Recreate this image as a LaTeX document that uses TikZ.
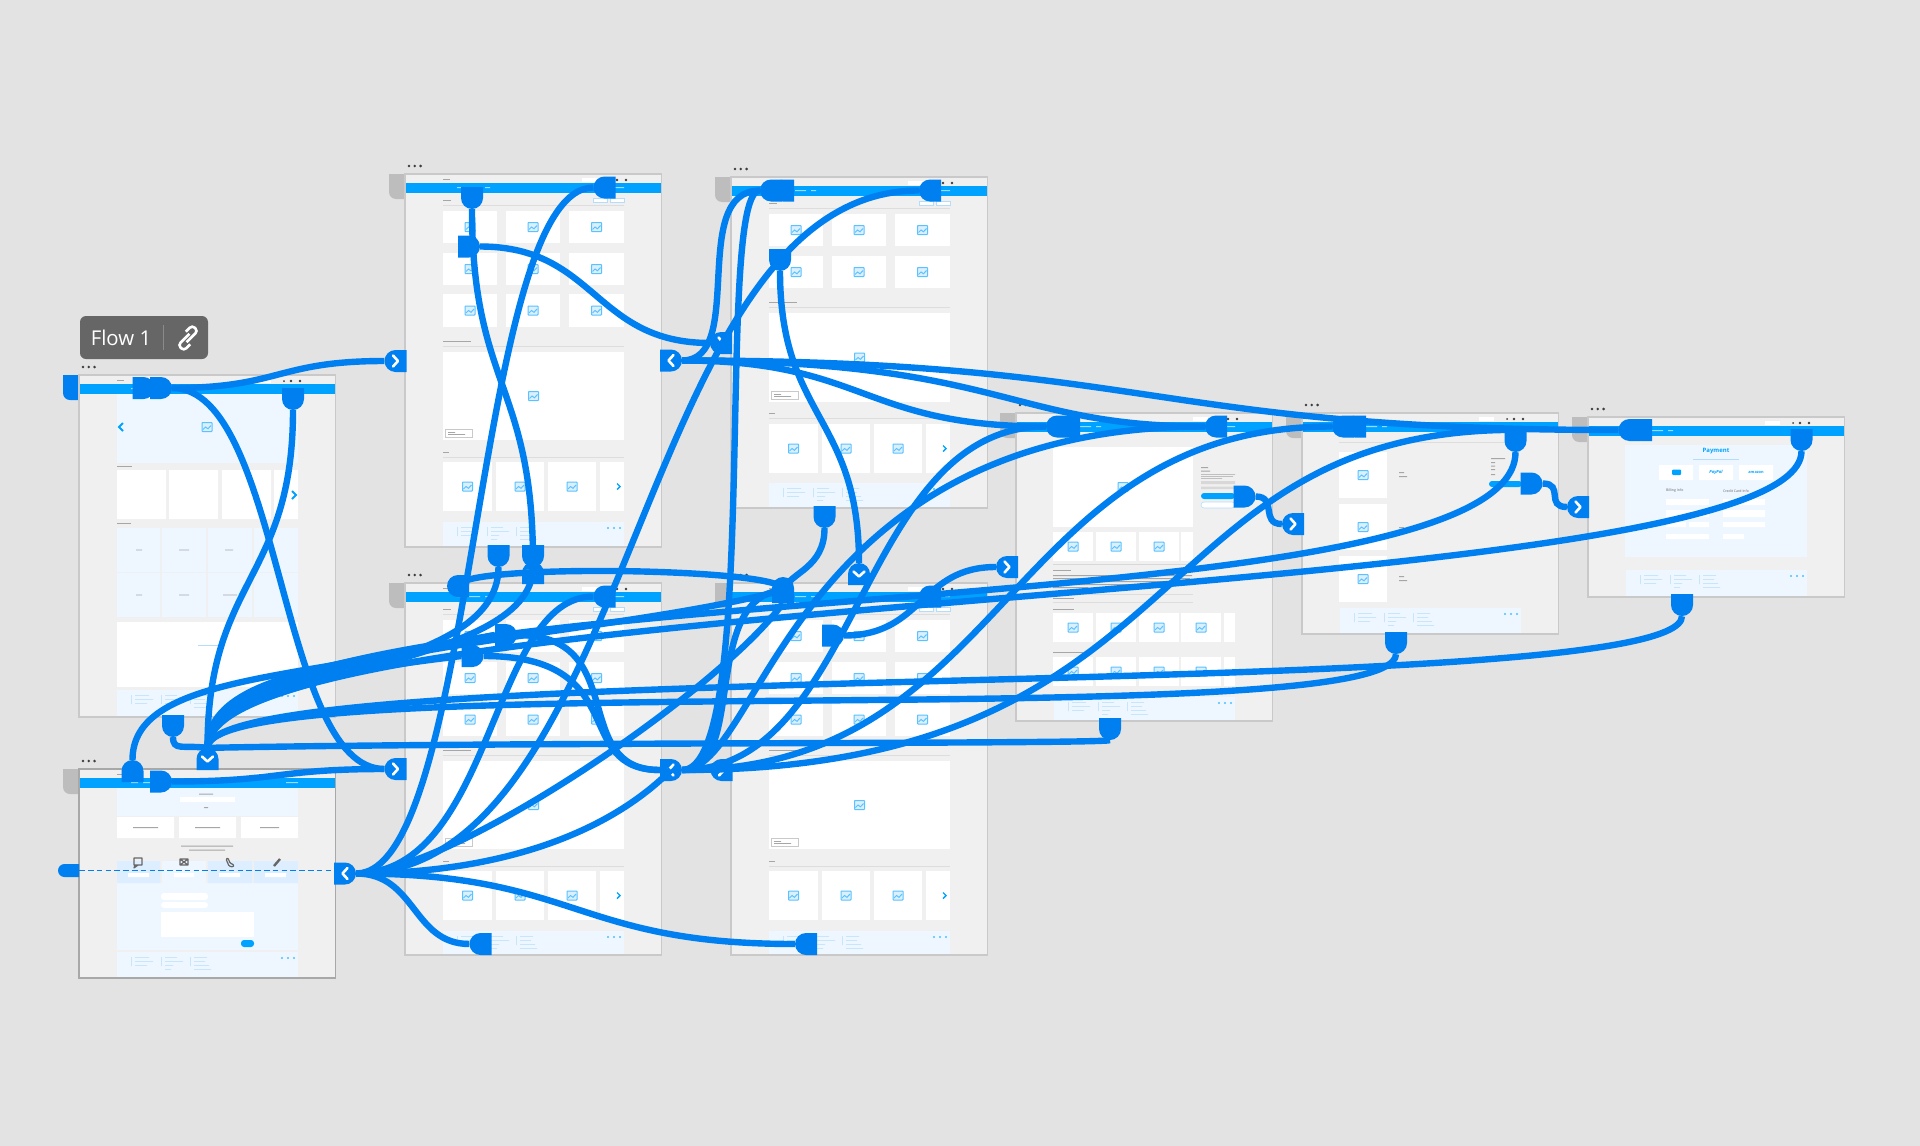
\documentclass[tikz,border=0pt]{standalone}
\usepackage{fontspec}
\usepackage{xcolor}
\usepackage{tikz}
\usetikzlibrary{shapes.misc}
\setmainfont{Open Sans}
\definecolor{FLCanvas}{HTML}{E3E3E3}
\definecolor{FLBlue}{HTML}{0080F0}
\definecolor{FLBar}{HTML}{00A2FF}
\definecolor{FLPaper}{HTML}{F0F0F0}
\definecolor{FLEdge}{HTML}{C9C9C9}
\definecolor{FLEdgeDark}{HTML}{A8A8A8}
\definecolor{FLGrip}{HTML}{BDBDBD}
\definecolor{FLPale}{HTML}{EEF7FF}
\definecolor{FLTab}{HTML}{DCEEFF}
\definecolor{FLSoft}{HTML}{B4DDFA}
\definecolor{FLIcon}{HTML}{DCEFFF}
\definecolor{FLInk}{HTML}{A6A6A6}
\definecolor{FLTag}{HTML}{666666}
\definecolor{FLTagLine}{HTML}{8A8A8A}
\tikzset{
  portshape/.style={shape=rounded rectangle,rounded rectangle west arc=none,fill=FLBlue,draw=none,inner sep=0pt,minimum width=0.95cm,minimum height=1.1cm},
  flowline/.style={draw=FLBlue,line width=0.32cm},
  dashline/.style={draw=FLBlue,line width=0.085cm,dash pattern=on 0.28cm off 0.16cm},
  chevmark/.style={draw=white,line width=0.13cm,line cap=round,line join=round},
  cardbox/.style={fill=white},
  textbar/.style={fill=FLInk},
  softbar/.style={fill=FLSoft},
  sectionline/.style={draw=FLEdge!50!FLPaper,line width=0.05cm},
  iconline/.style={draw=FLBar!65!white,line width=0.05cm},
  darkicon/.style={draw=black!60,line width=0.06cm,line join=round},
  imgicon/.pic={
    \draw[iconline,fill=FLIcon,rounded corners=0.03cm] (-5,-4.5) rectangle (5,4.5);
    \draw[iconline] (-4,2.5) -- (-1.5,0) -- (1,1.8) -- (4,-1.5);
  }
}
% one frame with its dots, grip and menu bar
\newcommand{\screen}[5]{
  \begin{scope}[shift={(#1,#2)}]
    \fill[#4] (0,0) -- (-16,0) [rounded corners=0.35cm] -- (-16,25) [sharp corners] -- (0,25) -- cycle;
    \fill[FLTag!60!black] (4,-8) circle (0.07cm) (9.8,-8) circle (0.07cm) (15.6,-8) circle (0.07cm);
    \fill[FLPaper,draw=#5,line width=0.09cm] (0,0) rectangle (256.5,#3);
    \fill[FLBar] (0.8,9) rectangle (255.7,18.5);
    \fill[textbar] (38,5) rectangle (45,6);
    \fill[white] (177,3.5) rectangle (192,8);
    \fill[FLTag!60!black] (205,6) circle (0.05cm) (212,6) circle (0.07cm) (221,6) circle (0.07cm);
    \fill[white!60!FLBar] (52,13) rectangle (59,14) (64,13) rectangle (75,14) (80,13) rectangle (85,14) (207,13) rectangle (219,14);
  \end{scope}
}
\newcommand{\imgcard}[4]{
  \fill[cardbox] (#1,#2) rectangle (#3,#4);
  \pic at ({(#1+#3)/2},{(#2+#4)/2}) {imgicon};
}
\newcommand{\footband}[2]{
  \fill[FLPale] (38,#1) rectangle (219,#2);
  \fill[softbar] (52,{#1+5}) rectangle (52.7,{#1+14}) (82,{#1+5}) rectangle (82.7,{#1+14}) (111,{#1+5}) rectangle (111.7,{#1+14});
  \fill[softbar] (56,{#1+5}) rectangle (70,{#1+5.7}) (56,{#1+9}) rectangle (74,{#1+9.7}) (56,{#1+13}) rectangle (68,{#1+13.7});
  \fill[softbar] (86,{#1+5}) rectangle (98,{#1+5.7}) (86,{#1+9}) rectangle (104,{#1+9.7}) (86,{#1+13}) rectangle (94,{#1+13.7}) (86,{#1+17}) rectangle (92,{#1+17.7});
  \fill[softbar] (115,{#1+5}) rectangle (128,{#1+5.7}) (115,{#1+9}) rectangle (126,{#1+9.7}) (115,{#1+13}) rectangle (130,{#1+13.7}) (115,{#1+17}) rectangle (132,{#1+17.7});
  \fill[FLBar!70!white] (203,{#1+6}) circle (0.06cm) (209,{#1+6}) circle (0.06cm) (215,{#1+6}) circle (0.06cm);
}
\newcommand{\sectionhead}[2]{
  \fill[textbar] (38,{#1-5}) rectangle (#2,{#1-4});
  \draw[sectionline] (38,#1) -- (219,#1);
}
\newcommand{\herorow}[2]{
  \imgcard{38}{#1}{87}{#2}
  \imgcard{91}{#1}{139}{#2}
  \imgcard{143}{#1}{191}{#2}
  \fill[cardbox] (195,#1) rectangle (219,#2);
  \draw[FLBar,line width=0.07cm] (212,{(#1+#2)/2-3}) -- (215,{(#1+#2)/2}) -- (212,{(#1+#2)/2+3});
}
\newcommand{\captionbox}[1]{
  \fill[white,draw=FLEdge,line width=0.03cm] (40,#1) rectangle (67,{#1+8});
  \fill[textbar] (43,{#1+3}) rectangle (50,{#1+3.8}) (43,{#1+5}) rectangle (60,{#1+5.8});
}
\newcommand{\shoptop}[1]{
  \fill[textbar] (38,26) rectangle (46,27);
  \draw[sectionline] (38,31) -- (219,31);
  \fill[white,draw=FLSoft,line width=0.03cm] (188,24.5) rectangle (202,28) (205,24.5) rectangle (219,28);
  \imgcard{38}{#1}{92}{#1+32}
  \imgcard{101}{#1}{155}{#1+32}
  \imgcard{164}{#1}{219}{#1+32}
  \imgcard{38}{#1+42}{92}{#1+74}
  \imgcard{101}{#1+42}{155}{#1+74}
  \imgcard{164}{#1+42}{219}{#1+74}
}
\newcommand{\shoppage}[3]{
  \begin{scope}[shift={(#1,#2)}]
    \shoptop{37}
    \imgcard{38}{120}{92}{153}
    \imgcard{101}{120}{155}{153}
    \imgcard{164}{120}{219}{153}
    \sectionhead{172}{66}
    \imgcard{38}{178}{219}{266}
    \captionbox{255}
    \sectionhead{283}{44}
    \herorow{288}{337}
    \footband{348}{#3}
  \end{scope}
}
\begin{document}
\begin{tikzpicture}[x=0.05cm,y=-0.05cm]
\path[use as bounding box] (0,0) rectangle (1920,1146);
\fill[FLCanvas] (0,0) rectangle (1920,1146);
% frames
\screen{79}{375}{342}{FLBlue}{FLEdge}
\screen{79}{769}{209}{FLGrip}{FLEdgeDark}
\screen{405}{174}{373}{FLGrip}{FLEdge}
\screen{405}{583}{372}{FLGrip}{FLEdge}
\screen{731}{177}{331}{FLGrip}{FLEdge}
\screen{731}{583}{372}{FLGrip}{FLEdge}
\screen{1016}{413}{308}{FLGrip}{FLEdge}
\screen{1302}{413}{221}{FLGrip}{FLEdge}
\screen{1588}{417}{180}{FLGrip}{FLEdge}
% home
\begin{scope}[shift={(79,375)}]
\fill[FLPale] (38,18.5) rectangle (219,88);
\pic at (128,52) {imgicon};
\draw[FLBar,line width=0.09cm] (44,48) -- (40,52) -- (44,56);
\fill[textbar] (38,91) rectangle (53,92);
\fill[cardbox] (38,95) rectangle (87,144) (90,95) rectangle (139,144) (143,95) rectangle (192,144) (195,95) rectangle (219,144);
\draw[FLBar,line width=0.09cm] (213,116) -- (217,120) -- (213,124);
\fill[textbar] (38,148) rectangle (52,149);
\fill[FLPale] (38,153) rectangle (81,197) (83,153) rectangle (127,197) (129,153) rectangle (173,197) (175,153) rectangle (219,197);
\fill[FLPale] (38,198) rectangle (81,242) (83,198) rectangle (127,242) (129,198) rectangle (173,242) (175,198) rectangle (219,242);
\fill[textbar] (57,174.5) rectangle (63,175.3) (100,174.5) rectangle (110,175.3) (146,174.5) rectangle (154,175.3) (57,219.5) rectangle (63,220.3) (100,219.5) rectangle (110,220.3) (144,219.5) rectangle (158,220.3);
\fill[cardbox] (38,247) rectangle (219,312);
\fill[softbar] (119,270) rectangle (140,271);
\footband{315}{341}
\end{scope}
% contact
\begin{scope}[shift={(79,769)}]
\fill[FLPale] (38,18.5) rectangle (219,47);
\fill[white] (101,28) rectangle (156,33);
\fill[textbar] (120,24.5) rectangle (134,25.5) (125,38) rectangle (129,39);
\fill[cardbox] (38,48) rectangle (95,69) (100,48) rectangle (157,69) (162,48) rectangle (219,69);
\fill[textbar] (54,58) rectangle (79,59) (116,58) rectangle (141,59) (181,58) rectangle (200,59);
\fill[textbar] (102,76.5) rectangle (154,77.5) (110,80.5) rectangle (146,81.5);
\fill[FLPale] (38,114) rectangle (219,181);
\fill[FLTab] (38,92) rectangle (81,114) (129,92) rectangle (173,114) (175,92) rectangle (219,114);
\fill[FLPale] (83,92) rectangle (127,114);
\fill[white] (49,104) rectangle (70,108) (95,104) rectangle (115,108) (140,104) rectangle (161,108) (186,104) rectangle (207,108);
\draw[darkicon] (55,89) rectangle (63,96) (56,96) -- (55,99) -- (59,96);
\draw[darkicon] (101,90) rectangle (109,96) (101,90) -- (105,93) -- (109,90) (101,96) -- (105,93) -- (109,96);
\draw[darkicon,rounded corners=0.05cm] (147,90) -- (149,89) -- (151,94) -- (155,96) -- (154,98) -- (150,97) -- cycle;
\draw[darkicon,line width=0.12cm] (195,97) -- (201,90);
\fill[white,rounded corners=0.15cm] (82,124) rectangle (129,131) (82,133) rectangle (129,139);
\fill[white] (82,143) rectangle (175,168);
\fill[FLBar,rounded corners=0.15cm] (162,171) rectangle (175,178);
\footband{183}{208}
\end{scope}
% catalogue pages
\shoppage{405}{174}{372}
\shoppage{405}{583}{371}
\shoppage{731}{583}{371}
\begin{scope}[shift={(731,177)}]
\shoptop{37}
\sectionhead{130}{66}
\imgcard{38}{136}{219}{225}
\captionbox{214}
\sectionhead{241}{44}
\herorow{247}{296}
\footband{306}{330}
\end{scope}
% product
\begin{scope}[shift={(1016,413)}]
\imgcard{37}{34}{177}{114}
\imgcard{37}{119}{77}{148}
\imgcard{80}{119}{120}{148}
\imgcard{123}{119}{163}{148}
\fill[cardbox] (165,119) rectangle (177,148);
\fill[FLEdge!60!FLPaper] (37,150.5) rectangle (177,151.5);
\fill[textbar] (185,54) rectangle (192,55) (185,57.5) rectangle (194,58.5) (185,61) rectangle (219,61.7) (185,63) rectangle (217,63.7) (185,65) rectangle (206,65.7);
\fill[FLEdge!60!FLPaper] (185,68) rectangle (219,71) (185,73.5) rectangle (219,76);
\fill[FLBar,rounded corners=0.15cm] (185,80) rectangle (219,86);
\fill[white,draw=FLSoft,line width=0.03cm,rounded corners=0.15cm] (185,89) rectangle (219,95);
\fill[textbar] (37,157) rectangle (55,158);
\fill[textbar] (37,162) rectangle (176,163) (37,165) rectangle (174,166) (37,168) rectangle (170,169) (37,171) rectangle (176,172) (37,174) rectangle (72,175);
\draw[sectionline] (37,181) -- (177,181);
\fill[textbar] (37,185) rectangle (58,186);
\draw[sectionline] (37,189) -- (177,189);
\fill[textbar] (37,196) rectangle (58,197);
\imgcard{37}{200}{77}{229}
\imgcard{80}{200}{120}{229}
\imgcard{123}{200}{163}{229}
\imgcard{165}{200}{205}{229}
\fill[cardbox] (208,200) rectangle (219,229);
\fill[textbar] (37,239) rectangle (67,240);
\imgcard{37}{244}{77}{273}
\imgcard{80}{244}{120}{273}
\imgcard{123}{244}{163}{273}
\imgcard{165}{244}{205}{273}
\fill[cardbox] (208,244) rectangle (219,273);
\footband{284}{307}
\end{scope}
% cart
\begin{scope}[shift={(1302,413)}]
\draw[sectionline] (37,29) -- (219,29);
\imgcard{37}{39}{85}{85}
\imgcard{37}{91}{85}{137}
\imgcard{37}{143}{85}{189}
\fill[textbar] (97,59) rectangle (102,60) (97,63) rectangle (105,64) (97,114) rectangle (102,115) (97,118) rectangle (105,119) (97,163) rectangle (102,164) (97,167) rectangle (105,168);
\fill[textbar] (189,45) rectangle (203,46) (189,49) rectangle (193,50) (189,52.5) rectangle (193,53.5) (189,56) rectangle (193,57) (189,61) rectangle (193,62);
\fill[FLBar,rounded corners=0.15cm] (187,68) rectangle (220,74);
\footband{195}{220}
\end{scope}
% payment
\begin{scope}[shift={(1588,417)}]
\fill[FLPale] (37,28) rectangle (219,140);
\node[text=FLBar,font=\fontsize{8.5}{9}\selectfont\bfseries] (txtPayment) at (128,34) {Payment};
\fill[softbar] (105,42) rectangle (151,42.9);
\fill[cardbox] (71,48) rectangle (105,63) (111,48) rectangle (145,63) (151,48) rectangle (185,63);
\fill[FLBar,rounded corners=0.05cm] (84,52.5) rectangle (93,58);
\node[text=FLBar,font=\fontsize{6}{7}\selectfont\bfseries\itshape] (txtPaypal) at (128,55.5) {PayPal};
\node[text=FLBar,font=\fontsize{5.5}{6}\selectfont\bfseries] (txtAmazon) at (168,55) {amazon};
\node[text=black!60,font=\fontsize{5}{6}\selectfont,anchor=west,inner sep=0pt] (txtBilling) at (78,74) {Billing Info};
\node[text=black!60,font=\fontsize{5}{6}\selectfont,anchor=west,inner sep=0pt] (txtCredit) at (135,74) {Credit Card Info};
\fill[white] (78,82) rectangle (121,88) (78,93) rectangle (121,100) (78,105) rectangle (98,110) (101,105) rectangle (121,110) (78,117) rectangle (121,122);
\fill[white] (135,82) rectangle (177,88) (135,93) rectangle (177,100) (135,105) rectangle (177,110) (135,117) rectangle (156,122);
\footband{153}{179}
\end{scope}
% tag
\fill[FLTag,rounded corners=0.3cm] (80,316) rectangle (208,359);
\node[text=white,font=\fontsize{29}{34}\selectfont,inner sep=0pt] (flowName) at (121,338) {Flow 1};
\draw[FLTagLine,line width=0.07cm] (163.5,325) -- (163.5,350);
\draw[white,line width=0.13cm,rounded corners=0.17cm,shift={(188,338)},rotate=45] (4,-2) -- (-12,-2) -- (-12,6) -- (-3,6) (-4,2) -- (12,2) -- (12,-6) -- (3,-6);
% ports
\node[portshape] (pHomeA) at (143.5,388) {};
\node[portshape] (pHomeB) at (161,388) {};
\node[portshape,rotate=-90] (pHomeDown) at (293,399) {};
\node[portshape,rotate=-90] (pHomeFoot) at (173,726) {};
\node[portshape,rotate=90] (pContactUp) at (132.5,771) {};
\node[portshape] (pContactR) at (161,781.5) {};
\node[portshape,rotate=180,minimum width=1.05cm,minimum height=0.65cm] (pContactL) at (68.5,870.5) {};
\node[portshape,rotate=-90] (pShopDown) at (472,198) {};
\node[portshape] (pShopMid) at (469,246.5) {};
\node[portshape,rotate=180] (pShopTop) at (604.5,187.5) {};
\node[portshape,rotate=-90] (pShopFootA) at (498.5,556) {};
\node[portshape,rotate=-90] (pShopFootB) at (533,556) {};
\node[portshape,rotate=180] (pCollectL) at (771,190.5) {};
\node[portshape,rotate=180] (pCollectLb) at (783,190.5) {};
\node[portshape,rotate=180] (pCollectR) at (930,190.5) {};
\node[portshape,rotate=-90] (pCollectDown) at (780,260) {};
\node[portshape,rotate=-90] (pCollectFoot) at (824.5,517) {};
\node[portshape,rotate=180] (pProdA) at (458,586) {};
\node[portshape] (pProdB) at (506,635) {};
\node[portshape] (pProdC) at (472.5,656) {};
\node[portshape,rotate=180] (pProdTop) at (604.5,596.5) {};
\node[portshape,rotate=180] (pProdFoot) at (480.5,944) {};
\node[portshape,rotate=90,minimum width=1.3cm] (pDetailTop) at (783,590) {};
\node[portshape,rotate=180] (pDetailR) at (930,596.5) {};
\node[portshape] (pDetailMid) at (833,635.5) {};
\node[portshape,rotate=180] (pDetailFoot) at (806,944) {};
\node[portshape,rotate=180] (pProductL) at (1057,426.5) {};
\node[portshape,rotate=180] (pProductLb) at (1069,426.5) {};
\node[portshape,rotate=180] (pProductR) at (1216,426.5) {};
\node[portshape] (pProductMid) at (1244.5,496.5) {};
\node[portshape,rotate=-90] (pProductFoot) at (1110,729) {};
\node[portshape,rotate=180] (pCartL) at (1343,426.5) {};
\node[portshape,rotate=180] (pCartLb) at (1355,426.5) {};
\node[portshape,rotate=-90] (pCartDown) at (1515.5,441) {};
\node[portshape] (pCartMid) at (1531.5,483.5) {};
\node[portshape,rotate=-90] (pCartFoot) at (1396,643) {};
\node[portshape,rotate=180] (pPayL) at (1629.5,430) {};
\node[portshape,rotate=180] (pPayLb) at (1641,430) {};
\node[portshape,rotate=-90] (pPayDown) at (1801.5,440) {};
\node[portshape,rotate=-90] (pPayFoot) at (1682,605) {};
% arrival ports
\node[portshape,rotate=90] (inContactTop) at (207.5,759) {};
\node[portshape] (inContactR) at (345,873.5) {};
\node[portshape,rotate=180] (inShopTop) at (395.5,361) {};
\node[portshape,rotate=180] (inShopLow) at (395.5,769) {};
\node[portshape,rotate=90] (inProdTop) at (533,573) {};
\node[portshape] (inGap) at (671,360.5) {};
\node[portshape,rotate=180] (inCollect) at (721,343) {};
\node[portshape,rotate=90] (inDetailTop) at (859,574) {};
\node[portshape] (inProdR) at (671,770) {};
\node[portshape,rotate=180] (inDetailL) at (721.5,770) {};
\node[portshape,rotate=180] (inProductL) at (1007,567) {};
\node[portshape,rotate=180] (inCartL) at (1293,524) {};
\node[portshape,rotate=180] (inPay) at (1578,507) {};
\draw[chevmark,shift={(inContactTop)},rotate=-90] (-2.5,-5.5) -- (2.5,0) -- (-2.5,5.5);
\draw[chevmark,shift={(inContactR)},rotate=180] (-2.5,-5.5) -- (2.5,0) -- (-2.5,5.5);
\draw[chevmark,shift={(inShopTop)}] (-2.5,-5.5) -- (2.5,0) -- (-2.5,5.5);
\draw[chevmark,shift={(inShopLow)}] (-2.5,-5.5) -- (2.5,0) -- (-2.5,5.5);
\draw[chevmark,shift={(inProdTop)},rotate=-90] (-2.5,-5.5) -- (2.5,0) -- (-2.5,5.5);
\draw[chevmark,shift={(inGap)},rotate=180] (-2.5,-5.5) -- (2.5,0) -- (-2.5,5.5);
\draw[chevmark,shift={(inCollect)}] (-2.5,-5.5) -- (2.5,0) -- (-2.5,5.5);
\draw[chevmark,shift={(inDetailTop)},rotate=-90] (-2.5,-5.5) -- (2.5,0) -- (-2.5,5.5);
\draw[chevmark,shift={(inProdR)},rotate=180] (-2.5,-5.5) -- (2.5,0) -- (-2.5,5.5);
\draw[chevmark,shift={(inDetailL)}] (-2.5,-5.5) -- (2.5,0) -- (-2.5,5.5);
\draw[chevmark,shift={(inProductL)}] (-2.5,-5.5) -- (2.5,0) -- (-2.5,5.5);
\draw[chevmark,shift={(inCartL)}] (-2.5,-5.5) -- (2.5,0) -- (-2.5,5.5);
\draw[chevmark,shift={(inPay)}] (-2.5,-5.5) -- (2.5,0) -- (-2.5,5.5);
% connectors
\coordinate (dashEnd) at (336,870.5);
\draw[dashline] (pContactL.west) -- (dashEnd);
\draw[flowline] (pHomeB.east) .. controls +(108,0) and +(-108,0) .. (inShopTop.east);
\draw[flowline] (pHomeB.east) .. controls +(110,0) and +(-106,0) .. (inShopLow.east);
\draw[flowline] (pHomeDown.east) .. controls +(0,170) and +(0,-170) .. (inContactTop.east);
\draw[flowline] (pHomeFoot.east) .. controls +(0,14) and +(-25,-3) .. (inContactTop.east);
\draw[flowline] (pContactR.east) .. controls +(108,0) and +(-108,0) .. (inShopLow.east);
\draw[flowline] (pContactUp.east) .. controls +(0,-85) and +(-197,45) .. (pProdB.west);
% fan out of the contact page
\draw[flowline] (inContactR.east) .. controls +(60,0) and +(-57,0) .. (pProdFoot.east);
\draw[flowline] (inContactR.east) .. controls +(221,0) and +(-221,0) .. (pDetailFoot.east);
\draw[flowline] (inContactR.east) .. controls +(130,0) and +(-70,70) .. (inProdR.center);
\draw[flowline] (inContactR.east) .. controls +(96,0) and +(-63,87) .. (pDetailTop.west);
\draw[flowline] (inContactR.east) .. controls +(282,0) and +(-284,0) .. (pCollectR.east);
\draw[flowline] (inContactR.east) .. controls +(138,0) and +(-103,0) .. (pProdTop.east);
\draw[flowline] (inContactR.east) .. controls +(121,0) and +(-120,0) .. (pShopTop.east);
% into and out of the gap between the catalogue pages
\draw[flowline] (pCollectL.east) .. controls +(-46,0) and +(80,0) .. (inProdR.east);
\draw[flowline] (pDetailTop.center) .. controls +(-83,7) and +(65,0) .. (inProdR.east);
\draw[flowline] (pProdB.east) .. controls +(114,0) and +(-92,0) .. (inProdR.west);
\draw[flowline] (pProdC.east) .. controls +(150,0) and +(-90,0) .. (inProdR.west);
\draw[flowline] (inProdR.east) -- (inDetailL.east);
\draw[flowline] (inProdR.east) .. controls +(179,0) and +(-188,0) .. (pProductL.east);
\draw[flowline] (inProdR.east) .. controls +(80,0) and +(-416,0) .. (pProductR.east);
\draw[flowline] (inProdR.east) .. controls +(327,0) and +(-326,0) .. (pCartL.east);
\draw[flowline] (inProdR.east) .. controls +(520,0) and +(-377,0) .. (pCartDown.west);
\draw[flowline] (inGap.east) .. controls +(65,0) and +(-72,0) .. (pCollectL.east);
\draw[flowline] (inGap.east) .. controls +(183,0) and +(-184,0) .. (pProductL.east);
\draw[flowline] (inGap.east) .. controls +(320,0) and +(-196,0) .. (pProductR.east);
\draw[flowline] (inGap.east) .. controls +(470,0) and +(-469,0) .. (pPayL.east);
% short hops
\draw[flowline] (pShopMid.east) .. controls +(116,0) and +(-116,0) .. (inCollect.east);
\draw[flowline] (pShopDown.east) .. controls +(0,178) and +(0,-178) .. (inProdTop.east);
\draw[flowline] (pCollectDown.east) .. controls +(0,147) and +(0,-147) .. (inDetailTop.east);
\draw[flowline] (pCollectFoot.east) .. controls +(0,40) and +(8,-18) .. (pDetailTop.center);
\draw[flowline] (pProdA.center) .. controls +(0,-23) and +(7,-22) .. (pDetailTop.center);
\draw[flowline] (pDetailMid.east) .. controls +(79,0) and +(-76,0) .. (inProductL.east);
\draw[flowline] (pProductMid.east) .. controls +(22,0) and +(-22,0) .. (inCartL.east);
\draw[flowline] (pCartMid.east) .. controls +(22,0) and +(-22,0) .. (inPay.east);
% back to the contact page
\draw[flowline] (inContactTop.east) .. controls +(0,-189) and +(0,190) .. (pCartDown.east);
\draw[flowline] (inContactTop.east) .. controls +(0,-164) and +(0,160) .. (pPayDown.east);
\draw[flowline] (inContactTop.east) .. controls +(0,-99) and +(-183,50) .. (pDetailTop.center);
\draw[flowline] (inContactTop.east) .. controls +(0,-79) and +(0,115) .. (pShopFootA.east);
\draw[flowline] (inContactTop.east) .. controls +(0,-79) and +(0,105) .. (pShopFootB.east);
\draw[flowline] (inContactTop.east) .. controls +(0,-69) and +(-167,30) .. (pProdB.west);
\draw[flowline] (inContactTop.east) .. controls +(0,-59) and +(-113,14) .. (pProdC.west);
\draw[flowline] (pPayFoot.east) .. controls +(0,91) and +(0,-94) .. (inContactTop.east);
\draw[flowline] (pCartFoot.east) .. controls +(0,83) and +(0,-84) .. (inContactTop.east);
\draw[flowline] (pProductFoot.east) .. controls +(-10,4) and +(300,-6) .. (inContactTop.east);
\end{tikzpicture}
\end{document}
